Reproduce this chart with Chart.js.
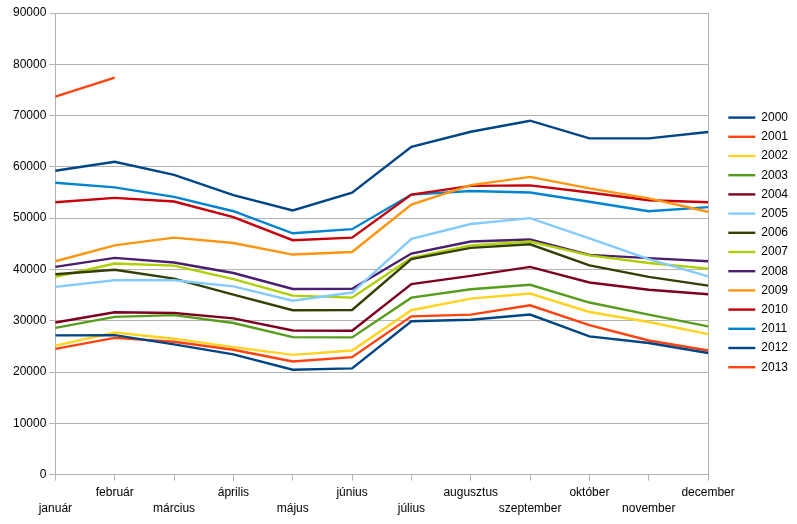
<!DOCTYPE html>
<html>
<head>
<meta charset="utf-8">
<script src="https://cdn.jsdelivr.net/npm/chart.js@4/dist/chart.umd.min.js"></script>
<style>
  html,body{margin:0;padding:0;background:#fff;}
  #wrap{width:797px;height:524px;}
</style>
</head>
<body>
<div id="wrap"><canvas id="chart"></canvas></div>
<script>
/* DATA */

const months = [
  "január","február","március","április","május","június",
  "július","augusztus","szeptember","október","november","december"
];

const years = [
  "2000","2001","2002","2003","2004","2005","2006",
  "2007","2008","2009","2010","2011","2012","2013"
];

const y2000 = [27150,27200,25400,23450,20450,20700,29900,30200,31200,26950,25650,23700];
const y2001 = [24500,26650,25900,24350,22050,22900,30850,31200,33000,29150,26150,24200];
const y2002 = [25150,27700,26500,24850,23350,24200,32050,34300,35300,31700,29750,27400];
const y2003 = [28600,30750,31100,29550,26800,26750,34500,36150,37000,33550,31200,28900];
const y2004 = [29650,31650,31500,30450,28100,28050,37150,38750,40500,37450,36050,35150];
const y2005 = [36600,37900,37900,36700,33900,35500,45950,48850,50000,46050,42000,38650];
const y2006 = [39050,39950,38200,35100,32050,32100,42000,44200,44900,40800,38550,36850];
const y2007 = [38550,41150,40750,38100,34900,34500,42250,44700,45450,42750,41250,40150];
const y2008 = [40500,42250,41350,39300,36200,36250,43100,45450,45850,42850,42200,41600];
const y2009 = [41600,44700,46200,45150,42900,43400,52650,56450,58050,55800,53850,51250];
const y2010 = [53100,53950,53250,50200,45700,46200,54600,56300,56400,55000,53500,53100];
const y2011 = [56900,56000,54150,51350,47050,47850,54600,55300,55000,53200,51350,52150];
const y2012 = [59250,61000,58450,54500,51500,54950,63900,66850,69000,65550,65550,66800];
const y2013 = [73700,77400];

const seriesValues = [
  y2000,y2001,y2002,y2003,y2004,y2005,y2006,
  y2007,y2008,y2009,y2010,y2011,y2012,y2013
];

const yTicks = [0,10000,20000,30000,40000,50000,60000,70000,80000,90000];

/* COLORS */

const colors = [
  "#004586","#ff420e","#ffd320","#579d1c","#7e0021","#83caff","#314004",
  "#aecf00","#4b1f6f","#ff950e","#c5000b","#0084d1","#004586","#ff420e"
];

const gridColor = "#b3b3b3";

/* LEGEND SHIFT (gap between plot and legend) */

const legendShift = {
  id:"legendShift",
  afterLayout(chart){
    const lg = chart.legend;
    if(!lg) return;
    lg.left += 13;
    lg.right += 13;
  }
};

/* CHART */

const ctx =
document.getElementById(
  "chart"
);

const chart =
new Chart(ctx,{

  type:"line",

  data:{
    labels:months,

    datasets:years.map((y,i)=>({
      label:y,
      data:seriesValues[i],
      borderColor:colors[i],
      backgroundColor:colors[i],
      borderWidth:2.4,
      pointRadius:0,
      pointStyle:"line",
      tension:0,
      fill:false
    }))
  },

  plugins:[legendShift],

  options:{
    responsive:true,
    maintainAspectRatio:false,
    animation:false,

    layout:{
      padding:{left:10,right:12,top:13,bottom:3}
    },

    plugins:{
      tooltip:{enabled:false},
      legend:{
        position:"right",
        align:"start",
        title:{
          display:true,
          text:" ",
          padding:{top:77,bottom:0}
        },
        labels:{
          usePointStyle:true,
          pointStyleWidth:27,
          boxHeight:12,
          padding:7.2,
          color:"#000",
          font:{family:"Liberation Sans",size:12}
        }
      }
    },

    scales:{

      x:{
        offset:false,
        border:{color:gridColor},
        grid:{
          color:(c)=> c.index === months.length-1 ? gridColor : "transparent",
          tickColor:gridColor,
          tickLength:6
        },
        ticks:{
          autoSkip:false,
          maxRotation:0,
          padding:4,
          color:"#000",
          font:{family:"Liberation Sans",size:12,lineHeight:1.35},
          callback:(v,i)=> i%2===0 ? ["",months[i]] : months[i]
        }
      },

      y:{
        min:0,
        max:90000,
        border:{color:gridColor},
        afterBuildTicks:(axis)=>{
          axis.ticks = yTicks.map(v=>({value:v}));
        },
        grid:{
          color:gridColor,
          tickColor:gridColor,
          tickLength:6
        },
        ticks:{
          padding:3,
          color:"#000",
          font:{family:"Liberation Sans",size:12},
          callback:(v)=> String(v)
        }
      }

    }
  }

});
</script>
</body>
</html>
